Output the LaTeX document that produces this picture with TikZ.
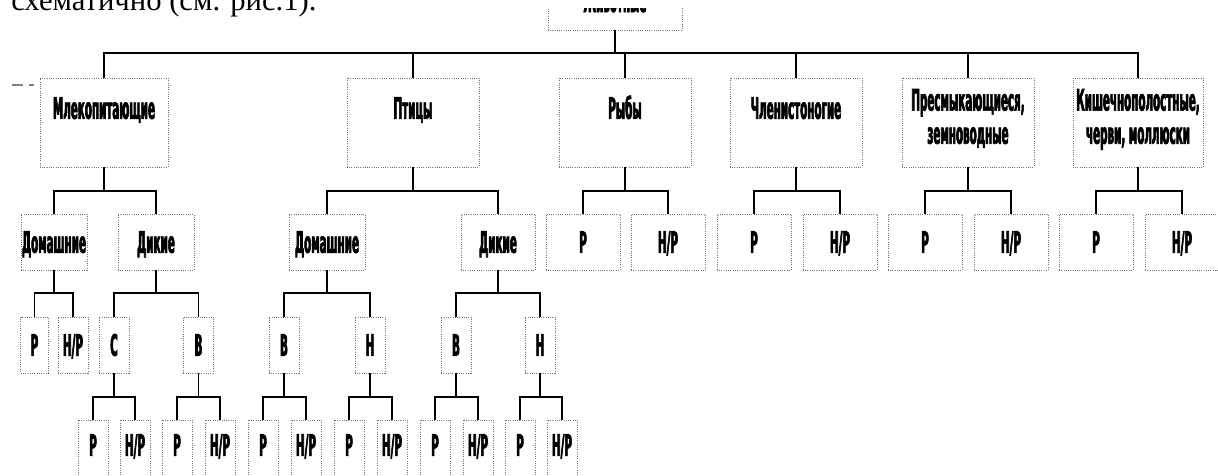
\documentclass[tikz,border=0pt]{standalone}
\usepackage{fontspec}
\usepackage{tikz}
\usetikzlibrary{positioning}
\newfontfamily\boxfont[FakeStretch=0.35, FakeBold=2]{DejaVu Sans}
\newfontfamily\introfont{Liberation Serif}

\tikzset{
  conn/.style={line width=1.4pt, black},
  frame/.style={draw=black!55, densely dotted, line width=0.6pt, inner sep=0pt,
    font=\boxfont\bfseries\fontsize{21}{17.8}\selectfont, text height=15.3pt, text depth=0pt},
  groupbox/.style={frame, minimum width=3.3cm, minimum height=2.225cm, text depth=20.6pt, align=center},
  twoline/.style={text height=30.2pt, text depth=0pt},
  kindbox/.style={frame, minimum width=1.85cm, minimum height=1.4cm},
  subbox/.style={frame, minimum width=0.75cm, minimum height=1.4cm},
  leafbox/.style={frame, minimum width=0.75cm, minimum height=1.75cm, text depth=14.2pt}
}

\begin{document}
\begin{tikzpicture}[x=0.025cm, y=-0.025cm]
    \useasboundingbox (0,0) rectangle (1218,475);
    \clip (0,0) rectangle (1218,475);

    % Root (cut off by the text line above)
    \node[frame, minimum width=3.35cm, minimum height=1.75cm, text height=24.2pt] (root) at (615,-5) {Животные};
    \fill[white] (530,-2) rectangle (700,7.5);
    \node[anchor=base west, inner sep=0pt, font=\introfont\fontsize{21.8}{26}\selectfont] (intro) at (11,10.5) {схематично (см. рис.1).};
    \draw[black!50, line width=0.8pt, dash pattern=on 8pt off 4pt] (12,85) -- (34,85);

    % Groups
    \node[groupbox, minimum width=3.2cm] (mam) at (104,122.5) {Млекопитающие};
    \node[groupbox] (bird) at (413,122.5) {Птицы};
    \node[groupbox] (fish) at (625,122.5) {Рыбы};
    \node[groupbox] (arth) at (796,122.5) {Членистоногие};
    \node[groupbox, twoline] (rept) at (968,122.5) {Пресмыкающиеся,\\[5.8pt]земноводные};
    \node[groupbox, twoline, minimum width=3.25cm] (coel) at (1138,122.5) {Кишечнополостные,\\[5.8pt]черви, моллюски};

    % Second level
    \node[kindbox, minimum width=1.65cm] (mdom) at (54,242) {Домашние};
    \node[kindbox, minimum width=1.9cm] (mwild) at (156,242) {Дикие};
    \node[kindbox, minimum width=1.9cm] (bdom) at (327,242) {Домашние};
    \node[kindbox] (bwild) at (498,242) {Дикие};
    \node[kindbox] (fishr) at (583,242) {Р};
    \node[kindbox] (fishn) at (668,242) {Н/Р};
    \node[kindbox] (arthr) at (754,242) {Р};
    \node[kindbox] (arthn) at (840,242) {Н/Р};
    \node[kindbox] (reptr) at (925,242) {Р};
    \node[kindbox] (reptn) at (1011,242) {Н/Р};
    \node[kindbox] (coelr) at (1096,242) {Р};
    \node[kindbox] (coeln) at (1182,242) {Н/Р};

    % Third level
    \node[subbox, minimum width=0.68cm] (mdomr) at (34.5,345) {Р};
    \node[subbox] (mdomn) at (73,345) {Н/Р};
    \node[subbox] (mwc) at (114,345) {С};
    \node[subbox] (mwb) at (198.5,345) {В};
    \node[subbox] (bdb) at (284,345) {В};
    \node[subbox] (bdh) at (370,345) {Н};
    \node[subbox] (bwb) at (456,345) {В};
    \node[subbox] (bwh) at (540,345) {Н};

    % Leaves
    \node[leafbox] (mwcr) at (93,455) {Р};
    \node[leafbox] (mwcn) at (135,455) {Н/Р};
    \node[leafbox] (mwbr) at (177,455) {Р};
    \node[leafbox] (mwbn) at (220,455) {Н/Р};
    \node[leafbox] (bdbr) at (263,455) {Р};
    \node[leafbox] (bdbn) at (306,455) {Н/Р};
    \node[leafbox] (bdhr) at (349,455) {Р};
    \node[leafbox] (bdhn) at (392,455) {Н/Р};
    \node[leafbox] (bwbr) at (435,455) {Р};
    \node[leafbox] (bwbn) at (478,455) {Н/Р};
    \node[leafbox] (bwhr) at (520,455) {Р};
    \node[leafbox] (bwhn) at (562,455) {Н/Р};

    % Connectors
    \coordinate (bus) at (615,53);
    \draw[conn] (root.south) -- (bus);
    \draw[conn] (bus) -| (mam.north) (bus) -| (bird.north) (bus) -| (fish.north)
                (bus) -| (arth.north) (bus) -| (rept.north) (bus) -| (coel.north);
    \draw[conn] (mam.south) -- ++(0,24) coordinate (mamf) -| (mdom.north) (mamf) -| (mwild.north);
    \draw[conn] (bird.south) -- ++(0,24) coordinate (birdf) -| (bdom.north) (birdf) -| (bwild.north);
    \draw[conn] (fish.south) -- ++(0,24) coordinate (fishf) -| (fishr.north) (fishf) -| (fishn.north);
    \draw[conn] (arth.south) -- ++(0,24) coordinate (arthf) -| (arthr.north) (arthf) -| (arthn.north);
    \draw[conn] (rept.south) -- ++(0,24) coordinate (reptf) -| (reptr.north) (reptf) -| (reptn.north);
    \draw[conn] (coel.south) -- ++(0,24) coordinate (coelf) -| (coelr.north) (coelf) -| (coeln.north);
    \draw[conn] (mdom.south) -- ++(0,23) coordinate (mdomf) -| (mdomr.north) (mdomf) -| (mdomn.north);
    \draw[conn] (mwild.south) -- ++(0,23) coordinate (mwildf) -| (mwc.north) (mwildf) -| (mwb.north);
    \draw[conn] (bdom.south) -- ++(0,23) coordinate (bdomf) -| (bdb.north) (bdomf) -| (bdh.north);
    \draw[conn] (bwild.south) -- ++(0,23) coordinate (bwildf) -| (bwb.north) (bwildf) -| (bwh.north);
    \draw[conn] (mwc.south) -- ++(0,24) coordinate (mwcf) -| (mwcr.north) (mwcf) -| (mwcn.north);
    \draw[conn] (mwb.south) -- ++(0,24) coordinate (mwbf) -| (mwbr.north) (mwbf) -| (mwbn.north);
    \draw[conn] (bdb.south) -- ++(0,24) coordinate (bdbf) -| (bdbr.north) (bdbf) -| (bdbn.north);
    \draw[conn] (bdh.south) -- ++(0,24) coordinate (bdhf) -| (bdhr.north) (bdhf) -| (bdhn.north);
    \draw[conn] (bwb.south) -- ++(0,24) coordinate (bwbf) -| (bwbr.north) (bwbf) -| (bwbn.north);
    \draw[conn] (bwh.south) -- ++(0,24) coordinate (bwhf) -| (bwhr.north) (bwhf) -| (bwhn.north);
\end{tikzpicture}
\end{document}
